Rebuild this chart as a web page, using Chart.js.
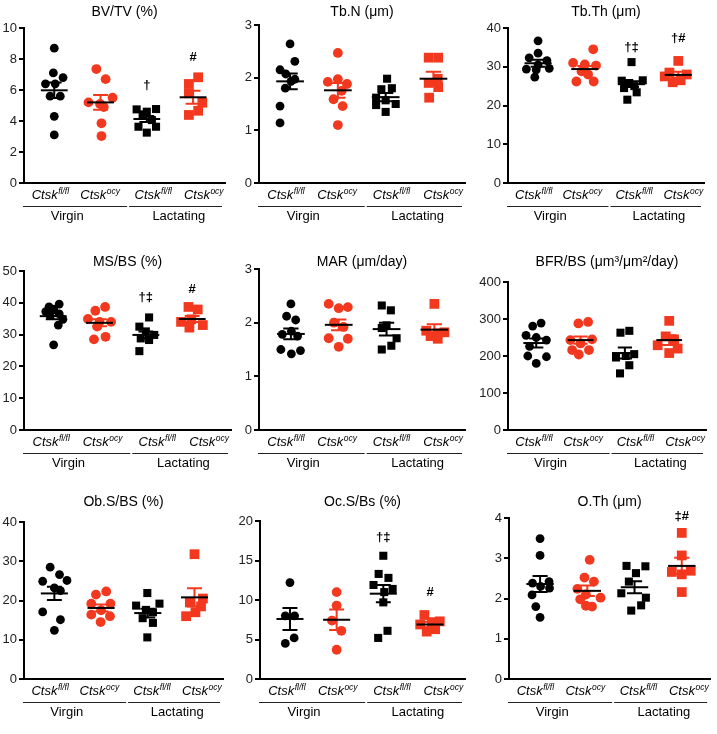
<!DOCTYPE html>
<html>
<head>
<meta charset="utf-8">
<script src="https://cdn.jsdelivr.net/npm/chart.js@4.4.1/dist/chart.umd.min.js"></script>
<style>
    body { margin: 0; background: #fff; }
    #wrap { position: relative; width: 717px; height: 734px; overflow: hidden; }
    .cell { position: absolute; }
    .cell canvas { display: block; }
</style>
</head>
<body>
<div id="wrap"></div>
<script>
const FONT = "'Liberation Sans', Arial, sans-serif";

const geneName = 'Ctsk';
const groupNames = ['fl/fl', 'ocy', 'fl/fl', 'ocy'];
const stateNames = ['Virgin', 'Lactating'];
const groupColors = ['#000000', '#f2381e', '#000000', '#f2381e'];
const groupShapes = ['circle', 'circle', 'rect', 'rect'];

const titles = ['BV/TV (%)', 'Tb.N (μm)', 'Tb.Th (μm)', 'MS/BS (%)', 'MAR (μm/day)',
    'BFR/BS (μm³/μm²/day)', 'Ob.S/BS (%)', 'Oc.S/Bs (%)', 'O.Th (μm)'];
const yMax = [10, 3, 40, 50, 3, 400, 40, 20, 4];
const yStep = [2, 1, 10, 10, 1, 100, 10, 5, 1];

// groups: virgin fl/fl, virgin ocy, lactating fl/fl, lactating ocy
// spread = horizontal scatter of each dot, in group widths
const bvtv = [[8.7, 7.1, 6.8, 6.4, 6.4, 5.6, 5.6, 4.3, 3.1], [7.35, 6.7, 5.5, 5.2, 5.1, 4.9, 3.85, 3.03], [4.75, 4.6, 4.77, 4.43, 4.06, 3.63, 3.63, 3.25], [6.82, 6.39, 5.79, 5.18, 4.66, 4.39]];
const bvtvSpread = [[0, -0.02, 0.19, -0.19, 0.02, -0.09, 0.13, 0, 0], [-0.09, 0.11, 0.26, -0.26, -0.01, 0.07, 0.02, 0.02], [-0.22, 0, 0.2, -0.09, 0.11, -0.18, 0.2, 0], [0.11, -0.09, -0.09, 0.2, 0.11, -0.09]];
const bvtvMean = [5.98, 5.2, 4.13, 5.53];
const bvtvSem = [0.5, 0.48, 0.2, 0.42];
const bvtvSig = ['', '', '†', '#'];
const bvtvSigY = [0, 0, 6.3, 8.1];

const tbn = [[2.64, 2.31, 2.15, 2.07, 1.97, 1.93, 1.8, 1.46, 1.14], [2.47, 1.97, 1.92, 1.88, 1.75, 1.59, 1.46, 1.1], [1.98, 1.8, 1.78, 1.62, 1.57, 1.5, 1.48, 1.35], [2.38, 2.38, 1.98, 1.9, 1.82, 1.62]];
const tbnSpread = [[0, 0.1, -0.21, -0.09, 0.1, 0.02, -0.1, -0.21, -0.21], [0, 0, -0.21, 0.19, 0.08, -0.09, 0.1, 0], [0.03, 0.13, -0.09, -0.2, 0, 0.21, -0.2, 0], [-0.1, 0.1, 0.09, -0.1, 0.1, -0.09]];
const tbnMean = [1.93, 1.76, 1.63, 1.98];
const tbnSem = [0.15, 0.14, 0.08, 0.13];
const tbnSig = ['', '', '', ''];
const tbnSigY = [0, 0, 0, 0];

const tbth = [[36.7, 33.5, 32.3, 31.6, 30.5, 29.4, 29.2, 29.6, 27.3], [34.5, 31.0, 30.6, 30.3, 28.8, 28.0, 26.2, 26.2], [31.2, 26.5, 26.4, 25.8, 25.0, 24.5, 23.4, 21.5], [31.5, 28.5, 28.0, 27.5, 26.5, 26.0]];
const tbthSpread = [[0, 0, -0.19, 0.19, 0, -0.25, -0.04, 0.24, -0.07], [0.18, -0.25, 0, 0.24, -0.07, 0.07, -0.18, 0.19], [0, 0.24, -0.21, -0.05, 0.06, -0.16, 0.11, -0.09], [0, -0.19, 0.18, -0.29, 0.05, -0.12]];
const tbthMean = [30.9, 29.4, 25.5, 27.9];
const tbthSem = [0.9, 0.8, 0.75, 0.8];
const tbthSig = ['', '', '†‡', '†#'];
const tbthSigY = [0, 0, 35, 37.2];

const msbs = [[39.6, 38.7, 38.0, 37.2, 36.5, 36.0, 34.8, 33.0, 26.8], [38.7, 37.5, 34.9, 34.0, 34.0, 32.5, 29.3, 28.5], [35.4, 32.5, 31.0, 29.9, 28.8, 28.3, 24.8], [38.7, 37.9, 34.8, 34.0, 33.0, 32.2]];
const msbsSpread = [[0.13, -0.09, 0.01, -0.16, 0.13, -0.07, 0.21, 0.11, 0.01], [0.12, -0.09, -0.25, 0, 0.25, -0.05, 0.13, -0.12], [0.07, -0.14, 0, 0.18, -0.11, 0.07, -0.14], [-0.08, 0.12, -0.02, -0.24, 0.23, -0.06]];
const msbsMean = [35.8, 33.7, 29.9, 34.9];
const msbsSem = [1.0, 1.1, 1.1, 0.95];
const msbsSig = ['', '', '†‡', '#'];
const msbsSigY = [0, 0, 41.6, 44.2];

const mar = [[2.35, 2.12, 2.05, 1.84, 1.78, 1.75, 1.5, 1.48, 1.42], [2.35, 2.29, 2.27, 2.0, 1.92, 1.71, 1.7, 1.55], [2.32, 2.23, 1.95, 1.9, 1.71, 1.57, 1.5], [2.35, 1.85, 1.82, 1.8, 1.75, 1.7]];
const marSpread = [[0, -0.09, 0.1, 0.01, -0.18, 0.14, -0.21, 0.2, 0.01], [-0.21, 0.19, 0, -0.1, 0.1, -0.21, 0.19, 0], [-0.1, 0.09, 0, -0.1, 0.21, 0.1, -0.1], [0, -0.17, 0.21, 0.07, -0.08, 0.07]];
const marMean = [1.79, 1.96, 1.88, 1.87];
const marSem = [0.1, 0.1, 0.12, 0.1];
const marSig = ['', '', '', ''];
const marSigY = [0, 0, 0, 0];

const bfrbs = [[289, 281, 256, 250, 243, 226, 200, 198, 180], [292, 288, 245, 243, 234, 216, 216, 204], [268, 263, 205, 200, 196, 175, 153], [295, 253, 245, 229, 220, 208]];
const bfrbsSpread = [[0.11, -0.08, -0.23, 0, 0.23, -0.15, -0.19, 0.23, 0], [0.17, -0.05, 0.26, -0.23, 0, -0.19, 0.19, -0.04], [0.1, -0.1, 0.21, 0.02, -0.2, 0.1, -0.11], [0, -0.08, 0.11, -0.26, 0.19, 0]];
const bfrbsMean = [235, 243, 208, 243];
const bfrbsSem = [12, 10, 15, 13];
const bfrbsSig = ['', '', '', ''];
const bfrbsSigY = [0, 0, 0, 0];

const obsbs = [[28.5, 26.6, 25.1, 24.9, 23.2, 22.5, 17.1, 15.1, 12.4], [22.3, 21.5, 19.2, 19.2, 17.5, 16.4, 16.0, 14.5], [21.9, 19.2, 18.7, 17.6, 17.0, 15.5, 14.3, 10.6], [31.8, 20.5, 19.5, 18.5, 17.0, 16.0]];
const obsbsSpread = [[-0.09, 0.11, 0.27, -0.25, 0, 0.13, -0.25, 0.13, 0], [0.11, -0.11, -0.21, 0.2, 0, -0.21, 0.19, -0.01], [-0.01, 0.25, -0.25, -0.04, 0.11, -0.11, 0.11, -0.01], [0, 0.18, -0.1, 0.14, 0.02, -0.18]];
const obsbsMean = [21.8, 18.1, 16.8, 20.8];
const obsbsSem = [1.7, 0.9, 1.1, 2.3];
const obsbsSig = ['', '', '', ''];
const obsbsSigY = [0, 0, 0, 0];

const ocsbs = [[12.2, 8.0, 8.0, 5.2, 4.5], [11.0, 9.3, 7.4, 6.1, 3.7], [15.6, 13.3, 12.8, 11.9, 11.4, 11.0, 9.7, 6.1, 5.2], [8.1, 7.3, 7.2, 6.9, 6.3, 6.0]];
const ocsbsSpread = [[0, -0.1, 0.1, 0.09, -0.1], [0, 0, -0.1, 0.1, 0], [0, -0.1, 0.11, -0.21, 0.2, 0.02, 0, 0.09, -0.11], [-0.12, 0.21, 0.04, -0.21, 0.11, -0.07]];
const ocsbsMean = [7.6, 7.5, 10.8, 6.9];
const ocsbsSem = [1.4, 1.3, 1.1, 0.35];
const ocsbsSig = ['', '', '†‡', '#'];
const ocsbsSigY = [0, 0, 17.9, 10.9];

const oth = [[3.49, 3.07, 2.42, 2.38, 2.3, 2.26, 2.09, 1.8, 1.53], [2.96, 2.52, 2.42, 2.24, 2.1, 2.02, 1.98, 1.82, 1.8], [2.81, 2.8, 2.63, 2.42, 2.13, 2.02, 1.83, 1.7], [3.63, 3.07, 2.69, 2.66, 2.6, 2.16]];
const othSpread = [[0, 0, 0.19, -0.16, 0.01, 0.2, -0.17, -0.09, 0], [0.05, -0.06, 0.14, -0.21, -0.03, 0.28, -0.15, -0.03, 0.1], [-0.17, 0.23, 0.03, -0.12, -0.28, 0.24, 0.14, -0.07], [0, 0, 0.19, -0.21, 0, 0]];
const othMean = [2.36, 2.19, 2.28, 2.81];
const othSem = [0.2, 0.13, 0.15, 0.2];
const othSig = ['', '', '', '‡#'];
const othSigY = [0, 0, 0, 4.04];

const panelData = [
    [bvtv, bvtvSpread, bvtvMean, bvtvSem, bvtvSig, bvtvSigY],
    [tbn, tbnSpread, tbnMean, tbnSem, tbnSig, tbnSigY],
    [tbth, tbthSpread, tbthMean, tbthSem, tbthSig, tbthSigY],
    [msbs, msbsSpread, msbsMean, msbsSem, msbsSig, msbsSigY],
    [mar, marSpread, marMean, marSem, marSig, marSigY],
    [bfrbs, bfrbsSpread, bfrbsMean, bfrbsSem, bfrbsSig, bfrbsSigY],
    [obsbs, obsbsSpread, obsbsMean, obsbsSem, obsbsSig, obsbsSigY],
    [ocsbs, ocsbsSpread, ocsbsMean, ocsbsSem, ocsbsSig, ocsbsSigY],
    [oth, othSpread, othMean, othSem, othSig, othSigY]
];

// page layout: cells and plot boxes in page pixels
const colLeft = [0, 238, 476], colWidth = [238, 238, 241];
const rowTop = [0, 240, 485], rowHeight = [240, 245, 249];
const boxes = [
    { l: 24, r: 225, t: 28, b: 183, ty: 12, x0: 0.346, x1: 4.69 },
    { l: 259, r: 465, t: 25, b: 183, ty: 12, x0: 0.35, x1: 4.66 },
    { l: 508, r: 704, t: 28, b: 183, ty: 12, x0: 0.357, x1: 4.55 },
    { l: 24, r: 232, t: 271, b: 430, ty: 262, x0: 0.37, x1: 4.84 },
    { l: 259, r: 465, t: 269, b: 430, ty: 262, x0: 0.333, x1: 4.64 },
    { l: 508, r: 706, t: 282, b: 430, ty: 262, x0: 0.363, x1: 4.83 },
    { l: 24, r: 223, t: 522, b: 679, ty: 502, x0: 0.35, x1: 4.61 },
    { l: 260, r: 465, t: 521, b: 679, ty: 502, x0: 0.358, x1: 4.75 },
    { l: 509, r: 713, t: 518, b: 679, ty: 502, x0: 0.342, x1: 4.6 }
];

function extrasPlugin(idx, top) {
    const [vals, spread, mean, sem, sig, sigY] = panelData[idx];
    const box = boxes[idx];
    return {
        id: 'extras' + idx,
        afterDatasetsDraw(chart) {
            const { ctx, chartArea: a, scales: { x, y } } = chart;
            ctx.save();
            mean.forEach((m, i) => {
                const cx = x.getPixelForValue(i + 1);
                const halfMean = x.getPixelForValue(i + 1.29) - cx;
                const halfCap = x.getPixelForValue(i + 1.16) - cx;
                const yHi = y.getPixelForValue(m + sem[i]);
                const yLo = y.getPixelForValue(m - sem[i]);
                const yM = y.getPixelForValue(m);
                ctx.lineWidth = 2;
                ctx.strokeStyle = groupColors[i];
                ctx.beginPath();
                ctx.moveTo(cx, yHi); ctx.lineTo(cx, yLo);
                ctx.moveTo(cx - halfCap, yHi); ctx.lineTo(cx + halfCap, yHi);
                ctx.moveTo(cx - halfCap, yLo); ctx.lineTo(cx + halfCap, yLo);
                ctx.stroke();
                ctx.strokeStyle = '#000';
                ctx.beginPath();
                ctx.moveTo(cx - halfMean, yM); ctx.lineTo(cx + halfMean, yM);
                ctx.stroke();
                if (sig[i]) {
                    ctx.fillStyle = '#000';
                    ctx.font = 'bold 13px ' + FONT;
                    ctx.textAlign = 'center';
                    ctx.textBaseline = 'middle';
                    ctx.fillText(sig[i], cx, y.getPixelForValue(sigY[i]));
                }
            });

            // title
            ctx.fillStyle = '#000';
            ctx.font = '14px ' + FONT;
            ctx.textAlign = 'center';
            ctx.textBaseline = 'middle';
            ctx.fillText(titles[idx], (a.left + a.right) / 2, box.ty - top);

            // genotype labels under the axis
            const w = a.right - a.left;
            const labelPos = [0.13, 0.378, 0.642, 0.893];
            groupNames.forEach((g, i) => {
                const cx = a.left + labelPos[i] * w;
                ctx.font = 'italic 13px ' + FONT;
                const w1 = ctx.measureText(geneName).width;
                ctx.font = 'italic 8.5px ' + FONT;
                const w2 = ctx.measureText(g).width;
                const sx = cx - (w1 + w2) / 2;
                ctx.textAlign = 'left';
                ctx.textBaseline = 'alphabetic';
                ctx.font = 'italic 13px ' + FONT;
                ctx.fillText(geneName, sx, a.bottom + 16);
                ctx.font = 'italic 8.5px ' + FONT;
                ctx.fillText(g, sx + w1 + 0.5, a.bottom + 11);
            });

            // state lines and names
            const split = a.left + 0.518 * w;
            ctx.strokeStyle = '#222';
            ctx.lineWidth = 1;
            ctx.beginPath();
            ctx.moveTo(a.left - 1, a.bottom + 23.5); ctx.lineTo(split - 1, a.bottom + 23.5);
            ctx.moveTo(split + 1, a.bottom + 23.5); ctx.lineTo(a.right - 3, a.bottom + 23.5);
            ctx.stroke();
            ctx.font = '13px ' + FONT;
            ctx.textAlign = 'center';
            ctx.textBaseline = 'middle';
            ctx.fillText(stateNames[0], a.left + 0.215 * w, a.bottom + 33);
            ctx.fillText(stateNames[1], a.left + 0.77 * w, a.bottom + 33);
            ctx.restore();
        }
    };
}

function buildPanel(idx) {
    const col = idx % 3, row = Math.floor(idx / 3);
    const box = boxes[idx];
    const left = colLeft[col], top = rowTop[row];
    const width = colWidth[col], height = rowHeight[row];

    const holder = document.createElement('div');
    holder.className = 'cell';
    holder.style.left = left + 'px';
    holder.style.top = top + 'px';
    holder.style.width = width + 'px';
    holder.style.height = height + 'px';
    const canvas = document.createElement('canvas');
    canvas.width = width;
    canvas.height = height;
    canvas.style.width = width + 'px';
    canvas.style.height = height + 'px';
    holder.appendChild(canvas);
    document.getElementById('wrap').appendChild(holder);

    const [vals, spread] = panelData[idx];
    const datasets = vals.map((groupVals, g) => ({
        data: groupVals.map((v, k) => ({ x: g + 1 + spread[g][k], y: v })),
        pointStyle: groupShapes[g],
        backgroundColor: groupColors[g],
        borderColor: groupColors[g],
        borderWidth: 0,
        pointRadius: groupShapes[g] === 'rect' ? (g === 3 ? 6.9 : 5.7) : (g === 1 ? 4.9 : 4.4)
    }));

    new Chart(canvas, {
        type: 'scatter',
        data: { datasets: datasets },
        options: {
            responsive: false,
            animation: false,
            devicePixelRatio: 1,
            layout: {
                padding: { left: 0, right: left + width - box.r, top: box.t - top, bottom: top + height - box.b }
            },
            plugins: { legend: { display: false }, tooltip: { enabled: false } },
            scales: {
                x: {
                    type: 'linear',
                    min: box.x0,
                    max: box.x1,
                    ticks: { display: false },
                    grid: { display: true, drawOnChartArea: false, drawTicks: false },
                    border: { display: true, color: '#000', width: 2 },
                    afterFit: s => { s.height = 0; }
                },
                y: {
                    min: 0,
                    max: yMax[idx],
                    ticks: { stepSize: yStep[idx], color: '#222', padding: 2, font: { family: FONT, size: 13 } },
                    grid: { drawOnChartArea: false, drawTicks: true, tickLength: 5, color: '#000', lineWidth: 2 },
                    border: { display: true, color: '#000', width: 2 },
                    afterFit: s => { s.width = box.l - left; }
                }
            }
        },
        plugins: [extrasPlugin(idx, top)]
    });
}

document.addEventListener('DOMContentLoaded', function () {
    panelData.forEach((_, i) => buildPanel(i));
});
</script>
</body>
</html>
